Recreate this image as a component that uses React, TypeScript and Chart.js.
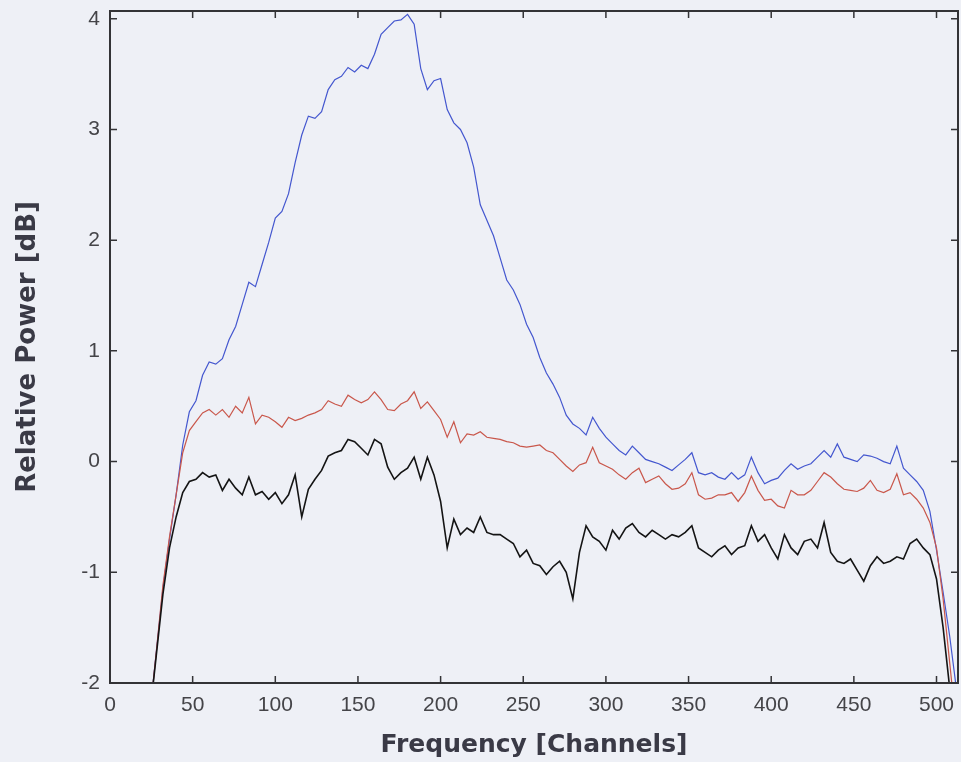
import { useEffect, useRef } from "react";
import { Chart, registerables } from "chart.js";

Chart.register(...registerables);

// Frequency channels (x)
const channels: number[] = [
  24, 28, 32, 36, 40, 44, 48, 52, 56, 60,
  64, 68, 72, 76, 80, 84, 88, 92, 96, 100,
  104, 108, 112, 116, 120, 124, 128, 132, 136, 140,
  144, 148, 152, 156, 160, 164, 168, 172, 176, 180,
  184, 188, 192, 196, 200, 204, 208, 212, 216, 220,
  224, 228, 232, 236, 240, 244, 248, 252, 256, 260,
  264, 268, 272, 276, 280, 284, 288, 292, 296, 300,
  304, 308, 312, 316, 320, 324, 328, 332, 336, 340,
  344, 348, 352, 356, 360, 364, 368, 372, 376, 380,
  384, 388, 392, 396, 400, 404, 408, 412, 416, 420,
  424, 428, 432, 436, 440, 444, 448, 452, 456, 460,
  464, 468, 472, 476, 480, 484, 488, 492, 496, 500,
  504, 508, 512,
];

// Blue series (relative power, dB)
const blueDb: number[] = [
  -2.3, -1.72, -1.15, -0.7, -0.3, 0.15, 0.45, 0.55, 0.78, 0.9,
  0.88, 0.93, 1.1, 1.22, 1.42, 1.62, 1.58, 1.78, 1.98, 2.2,
  2.26, 2.42, 2.7, 2.95, 3.12, 3.1, 3.16, 3.36, 3.45, 3.48,
  3.56, 3.52, 3.58, 3.55, 3.68, 3.86, 3.92, 3.98, 3.99, 4.04,
  3.95, 3.55, 3.36, 3.44, 3.46, 3.18, 3.06, 3.0, 2.88, 2.66,
  2.32, 2.18, 2.04, 1.84, 1.64, 1.55, 1.42, 1.24, 1.12, 0.94,
  0.8, 0.7, 0.58, 0.42, 0.34, 0.3, 0.24, 0.4, 0.3, 0.22,
  0.16, 0.1, 0.06, 0.14, 0.08, 0.02, 0.0, -0.02, -0.05, -0.08,
  -0.03, 0.02, 0.08, -0.1, -0.12, -0.1, -0.14, -0.16, -0.1, -0.16,
  -0.12, 0.04, -0.1, -0.2, -0.17, -0.15, -0.08, -0.02, -0.07, -0.04,
  -0.02, 0.04, 0.1, 0.04, 0.16, 0.04, 0.02, 0.0, 0.06, 0.05,
  0.03, 0.0, -0.02, 0.14, -0.06, -0.12, -0.18, -0.26, -0.45, -0.8,
  -1.18, -1.58, -2.05,
];

// Red series
const redDb: number[] = [
  -2.3, -1.72, -1.12, -0.68, -0.3, 0.08, 0.28, 0.36, 0.44, 0.47,
  0.42, 0.47, 0.4, 0.5, 0.44, 0.58, 0.34, 0.42, 0.4, 0.36,
  0.31, 0.4, 0.37, 0.39, 0.42, 0.44, 0.47, 0.55, 0.52, 0.5,
  0.6, 0.56, 0.53, 0.56, 0.63, 0.56, 0.47, 0.46, 0.52, 0.55,
  0.63, 0.48, 0.54, 0.46, 0.38, 0.22, 0.36, 0.17, 0.25, 0.24,
  0.27, 0.22, 0.21, 0.2, 0.18, 0.17, 0.14, 0.13, 0.14, 0.15,
  0.1, 0.08, 0.02, -0.04, -0.09, -0.03, -0.01, 0.13, -0.01, -0.04,
  -0.07, -0.12, -0.16, -0.1, -0.06, -0.19, -0.16, -0.13, -0.2, -0.25,
  -0.24, -0.2, -0.1, -0.3, -0.34, -0.33, -0.3, -0.3, -0.28, -0.36,
  -0.28, -0.13, -0.26, -0.35, -0.34, -0.4, -0.42, -0.26, -0.3, -0.3,
  -0.26, -0.18, -0.1, -0.14, -0.2, -0.25, -0.26, -0.27, -0.24, -0.17,
  -0.26, -0.28, -0.25, -0.11, -0.3, -0.28, -0.34, -0.42, -0.55, -0.78,
  -1.24, -1.82, -2.4,
];

// Black series
const blackDb: number[] = [
  -2.3, -1.75, -1.2, -0.78, -0.5, -0.28, -0.18, -0.16, -0.1, -0.14,
  -0.12, -0.26, -0.16, -0.24, -0.3, -0.14, -0.3, -0.27, -0.34, -0.28,
  -0.38, -0.3, -0.12, -0.5, -0.25, -0.16, -0.08, 0.05, 0.08, 0.1,
  0.2, 0.18, 0.12, 0.06, 0.2, 0.16, -0.05, -0.16, -0.1, -0.06,
  0.04, -0.16, 0.04, -0.12, -0.36, -0.78, -0.52, -0.66, -0.6, -0.64,
  -0.5, -0.64, -0.66, -0.66, -0.7, -0.74, -0.86, -0.8, -0.92, -0.94,
  -1.02, -0.95, -0.9, -1.0, -1.24, -0.82, -0.58, -0.68, -0.72, -0.8,
  -0.62, -0.7, -0.6, -0.56, -0.64, -0.68, -0.62, -0.66, -0.7, -0.66,
  -0.68, -0.64, -0.58, -0.78, -0.82, -0.86, -0.8, -0.76, -0.84, -0.78,
  -0.76, -0.58, -0.72, -0.66, -0.78, -0.88, -0.66, -0.78, -0.84, -0.72,
  -0.7, -0.78, -0.55, -0.82, -0.9, -0.92, -0.88, -0.98, -1.08, -0.94,
  -0.86, -0.92, -0.9, -0.86, -0.88, -0.74, -0.7, -0.78, -0.84, -1.06,
  -1.5, -2.05, -2.6,
];

const xTickLabels: number[] = [0, 50, 100, 150, 200, 250, 300, 350, 400, 450, 500];
const yTickLabels: number[] = [-2, -1, 0, 1, 2, 3, 4];

const X_MIN = 0;
const X_MAX = 513;
const Y_MIN = -2;
const Y_MAX = 4.07;

const BG = "#eef0f6";
const AXIS = "#333336";

const framePlugin = {
  id: "matlabFrame",
  beforeDraw(chart: any) {
    const ctx = chart.ctx;
    ctx.save();
    ctx.fillStyle = BG;
    ctx.fillRect(0, 0, chart.width, chart.height);
    ctx.restore();
  },
  afterDatasetsDraw(chart: any) {
    const { ctx, chartArea } = chart;
    const { left, right, top, bottom } = chartArea;
    const xs = chart.scales.x;
    const ys = chart.scales.y;
    const len = 7;
    ctx.save();
    ctx.strokeStyle = AXIS;
    ctx.lineWidth = 2;
    ctx.strokeRect(left, top, right - left, bottom - top);
    ctx.lineWidth = 1.5;
    ctx.beginPath();
    xTickLabels.forEach((v) => {
      const px = xs.getPixelForValue(v);
      ctx.moveTo(px, bottom);
      ctx.lineTo(px, bottom - len);
      ctx.moveTo(px, top);
      ctx.lineTo(px, top + len);
    });
    yTickLabels.forEach((v) => {
      const py = ys.getPixelForValue(v);
      ctx.moveTo(left, py);
      ctx.lineTo(left + len, py);
      ctx.moveTo(right, py);
      ctx.lineTo(right - len, py);
    });
    ctx.stroke();
    ctx.restore();
  },
};

export default function App() {
  const ref = useRef<HTMLCanvasElement>(null);

  useEffect(() => {
    const mk = (ys: number[]) => channels.map((c, i) => ({ x: c, y: ys[i] }));
    const chart = new Chart(ref.current as HTMLCanvasElement, {
      type: "line",
      data: {
        datasets: [
          {
            label: "black",
            data: mk(blackDb),
            borderColor: "#141414",
            borderWidth: 1.6,
            pointRadius: 0,
            tension: 0,
            clip: 0,
          },
          {
            label: "red",
            data: mk(redDb),
            borderColor: "#c9574b",
            borderWidth: 1.2,
            pointRadius: 0,
            tension: 0,
            clip: 0,
          },
          {
            label: "blue",
            data: mk(blueDb),
            borderColor: "#4457cf",
            borderWidth: 1.2,
            pointRadius: 0,
            tension: 0,
            clip: 0,
          },
        ],
      },
      options: {
        responsive: false,
        animation: false,
        devicePixelRatio: 1,
        layout: { padding: { top: 11, right: 3, left: 0, bottom: 0 } },
        plugins: {
          legend: { display: false },
          tooltip: { enabled: false },
        },
        scales: {
          x: {
            type: "linear",
            min: X_MIN,
            max: X_MAX,
            grid: { display: false, drawTicks: false },
            border: { display: false },
            ticks: {
              stepSize: 50,
              includeBounds: false,
              autoSkip: false,
              maxRotation: 0,
              padding: 10,
              color: "#444448",
              font: { family: "'Liberation Sans', Arial, sans-serif", size: 21 },
            },
            title: {
              display: true,
              text: "Frequency [Channels]",
              color: "#3a3a46",
              font: { family: "'DejaVu Sans', sans-serif", size: 25, weight: "bold" },
              padding: { top: 0, bottom: 2 },
            },
            afterFit: (s: any) => {
              s.height = 79;
              s.paddingLeft = 0;
              s.paddingRight = 0;
            },
          },
          y: {
            type: "linear",
            min: Y_MIN,
            max: Y_MAX,
            grid: { display: false, drawTicks: false },
            border: { display: false },
            afterBuildTicks: (s: any) => {
              s.ticks = yTickLabels.map((v) => ({ value: v }));
            },
            ticks: {
              autoSkip: false,
              padding: 10,
              color: "#444448",
              font: { family: "'Liberation Sans', Arial, sans-serif", size: 21 },
            },
            title: {
              display: true,
              text: "Relative Power [dB]",
              color: "#3a3a46",
              font: { family: "'DejaVu Sans', sans-serif", size: 26, weight: "bold" },
              padding: { top: 13, bottom: 0 },
            },
            afterFit: (s: any) => {
              s.width = 110;
              s.paddingTop = 0;
              s.paddingBottom = 0;
            },
          },
        },
      } as any,
      plugins: [framePlugin],
    });
    return () => chart.destroy();
  }, []);

  return (
    <div
      style={{
        position: "fixed",
        left: 0,
        top: 0,
        width: 961,
        height: 762,
        background: BG,
      }}
    >
      <canvas ref={ref} width={961} height={762} style={{ display: "block", width: 961, height: 762 }} />
    </div>
  );
}
